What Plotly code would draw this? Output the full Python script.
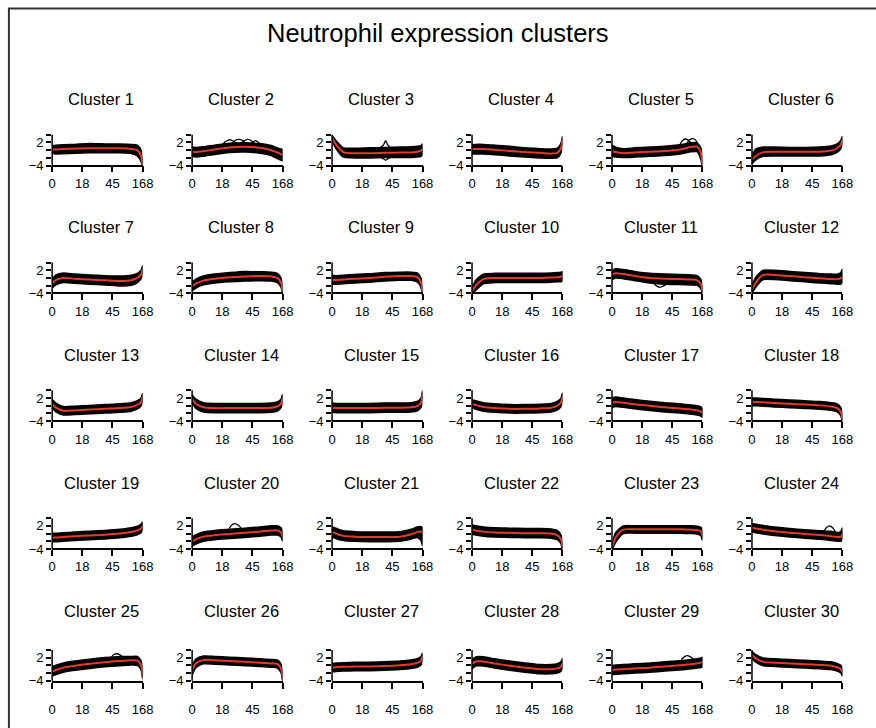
import plotly.graph_objects as go

W, H = 876, 728
FONT = "Liberation Sans, Arial, Helvetica, sans-serif"

# x positions in tick units: tick 0 -> 0, tick 18 -> 4, tick 45 -> 8, tick 168 -> 12
X = [0, 0.5, 1.5, 3, 5, 7, 9, 10.5, 11.3, 11.8, 12]
TICK_POS = [0, 4, 8, 12]
TICK_TEXT = ["0", "18", "45", "168"]
CLUSTERS = [f"Cluster {i}" for i in range(1, 31)]

MEAN = [
    [0.2, 0.2, 0.3, 0.4, 0.5, 0.5, 0.5, 0.3, 0.0, -1.5, -4.2],
    [-0.4, -0.5, -0.3, 0.2, 0.7, 0.9, 0.6, 0.0, -0.6, -1.0, -1.3],
    [3.3, 1.5, -0.5, -0.8, -0.8, -0.7, -0.6, -0.6, -0.4, -0.1, 0.3],
    [0.3, 0.3, 0.3, 0.1, -0.2, -0.5, -0.7, -0.9, -0.7, 0.5, 3.0],
    [-0.2, -0.5, -0.8, -0.6, -0.4, -0.2, 0.2, 0.8, 0.9, -0.8, -4.0],
    [-2.5, -1.5, -0.5, -0.4, -0.4, -0.4, -0.4, -0.1, 0.5, 1.5, 2.8],
    [-1.5, -0.5, 0.0, -0.2, -0.4, -0.6, -0.8, -0.6, 0.0, 0.9, 2.3],
    [-2.2, -1.5, -0.7, -0.2, 0.2, 0.4, 0.5, 0.4, 0.0, -1.2, -3.5],
    [-0.5, -0.5, -0.4, -0.2, 0.0, 0.3, 0.5, 0.5, 0.2, -1.2, -4.0],
    [-3.5, -2.0, -0.3, 0.0, 0.0, 0.0, 0.0, 0.1, 0.2, 0.3, 0.5],
    [0.8, 1.2, 1.0, 0.5, 0.0, -0.2, -0.3, -0.4, -0.6, -1.6, -3.5],
    [-3.0, -1.2, 0.8, 0.8, 0.5, 0.2, -0.1, -0.3, -0.3, -0.1, 0.3],
    [0.5, -0.5, -1.3, -1.2, -1.0, -0.8, -0.6, -0.3, 0.2, 1.0, 2.3],
    [1.8, 0.5, -0.4, -0.6, -0.6, -0.6, -0.6, -0.5, -0.2, 0.6, 2.0],
    [-0.5, -0.6, -0.6, -0.6, -0.6, -0.5, -0.5, -0.4, -0.1, 0.8, 3.0],
    [0.5, 0.2, -0.3, -0.6, -0.8, -0.8, -0.7, -0.5, 0.0, 0.9, 2.4],
    [0.8, 1.0, 0.8, 0.4, 0.0, -0.4, -0.7, -1.0, -1.2, -1.5, -1.8],
    [1.0, 1.0, 0.9, 0.7, 0.5, 0.3, 0.1, -0.2, -0.6, -1.6, -3.5],
    [-1.0, -1.0, -0.9, -0.7, -0.5, -0.3, 0.0, 0.4, 0.8, 1.3, 2.0],
    [-2.0, -1.5, -0.8, -0.4, -0.1, 0.2, 0.5, 0.8, 0.8, 0.3, -0.8],
    [0.5, 0.0, -0.6, -0.8, -0.9, -0.9, -0.8, -0.2, 0.4, 0.5, 0.2],
    [1.0, 0.8, 0.5, 0.3, 0.2, 0.1, 0.1, 0.0, -0.4, -1.5, -3.5],
    [-3.5, -1.0, 1.0, 1.1, 1.1, 1.1, 1.1, 1.0, 0.9, 0.5, -0.5],
    [1.5, 1.3, 1.0, 0.6, 0.2, -0.1, -0.4, -0.7, -0.9, -0.8, -0.2],
    [-1.6, -1.2, -0.6, -0.1, 0.4, 0.8, 1.1, 1.3, 1.2, 0.0, -2.5],
    [-1.3, 0.5, 1.4, 1.3, 1.1, 0.9, 0.7, 0.5, 0.4, -0.8, -3.2],
    [-0.6, -0.5, -0.4, -0.3, -0.3, -0.2, 0.0, 0.3, 0.6, 1.2, 2.3],
    [0.3, 1.0, 1.0, 0.5, -0.1, -0.6, -1.0, -1.0, -0.8, -0.3, 0.5],
    [-1.2, -1.1, -1.0, -0.8, -0.6, -0.3, 0.0, 0.3, 0.5, 0.7, 0.9],
    [2.8, 1.8, 0.9, 0.7, 0.5, 0.3, 0.1, -0.1, -0.5, -1.0, -1.8],
]

UPPER = [
    [1.2, 1.3, 1.4, 1.5, 1.7, 1.6, 1.6, 1.5, 1.3, 0.0, -3.5],
    [0.8, 0.7, 0.9, 1.3, 1.8, 1.9, 1.7, 1.2, 0.6, 0.3, 0.2],
    [3.8, 2.5, 0.6, 0.5, 0.6, 0.7, 0.8, 0.9, 1.0, 1.2, 1.6],
    [1.4, 1.5, 1.5, 1.3, 1.0, 0.6, 0.4, 0.3, 0.5, 1.8, 3.6],
    [1.3, 0.8, 0.4, 0.6, 0.8, 1.0, 1.4, 1.9, 1.9, 0.5, -3.0],
    [-1.3, 0.3, 0.8, 0.8, 0.7, 0.7, 0.8, 1.1, 1.6, 2.6, 3.6],
    [-0.3, 0.8, 1.3, 1.0, 0.8, 0.6, 0.5, 0.7, 1.2, 2.0, 3.2],
    [-1.0, -0.3, 0.5, 1.0, 1.4, 1.7, 1.6, 1.5, 1.2, 0.0, -2.5],
    [0.7, 0.6, 0.7, 0.9, 1.1, 1.4, 1.5, 1.5, 1.3, 0.0, -3.2],
    [-2.5, -0.6, 1.0, 1.2, 1.2, 1.2, 1.2, 1.3, 1.4, 1.5, 1.7],
    [2.0, 2.4, 2.2, 1.7, 1.2, 1.0, 0.9, 0.8, 0.6, -0.4, -2.6],
    [-2.0, 0.2, 2.0, 2.0, 1.7, 1.4, 1.1, 1.0, 1.0, 1.4, 2.3],
    [1.6, 0.7, -0.2, -0.1, 0.1, 0.3, 0.5, 0.8, 1.3, 2.0, 3.2],
    [2.8, 1.7, 0.8, 0.6, 0.6, 0.6, 0.6, 0.7, 1.0, 1.7, 3.0],
    [0.7, 0.6, 0.6, 0.6, 0.6, 0.7, 0.7, 0.8, 1.1, 2.0, 3.8],
    [1.6, 1.3, 0.8, 0.5, 0.3, 0.3, 0.4, 0.6, 1.1, 2.0, 3.3],
    [2.0, 2.3, 2.0, 1.6, 1.2, 0.8, 0.5, 0.2, 0.0, -0.3, -0.6],
    [2.0, 2.0, 1.9, 1.7, 1.5, 1.3, 1.1, 0.8, 0.5, -0.5, -2.6],
    [0.1, 0.1, 0.2, 0.4, 0.6, 0.8, 1.1, 1.5, 1.9, 2.4, 3.0],
    [-0.8, -0.3, 0.4, 0.8, 1.1, 1.4, 1.7, 2.0, 2.0, 1.5, 0.4],
    [1.8, 1.4, 0.7, 0.5, 0.4, 0.4, 0.5, 1.1, 1.7, 1.8, 1.6],
    [2.2, 2.0, 1.7, 1.5, 1.4, 1.3, 1.3, 1.2, 0.8, -0.4, -2.6],
    [-2.8, 0.3, 2.0, 2.0, 2.0, 2.0, 2.0, 2.0, 1.9, 1.6, 0.6],
    [2.6, 2.4, 2.1, 1.7, 1.3, 1.0, 0.7, 0.6, 0.3, 0.5, 1.5],
    [-0.4, 0.0, 0.6, 1.1, 1.6, 2.0, 2.3, 2.3, 2.3, 1.2, -1.5],
    [0.0, 1.6, 2.4, 2.3, 2.1, 1.9, 1.7, 1.5, 1.4, 0.3, -2.3],
    [0.5, 0.6, 0.7, 0.8, 0.8, 0.9, 1.1, 1.4, 1.7, 2.3, 3.2],
    [1.5, 2.2, 2.2, 1.7, 1.1, 0.6, 0.2, 0.2, 0.4, 0.9, 1.8],
    [0.0, 0.1, 0.2, 0.4, 0.6, 0.9, 1.2, 1.5, 1.7, 1.9, 2.1],
    [3.6, 2.8, 1.9, 1.7, 1.5, 1.3, 1.1, 0.9, 0.5, 0.0, -0.9],
]

LOWER = [
    [-0.8, -1.0, -0.9, -0.8, -0.7, -0.7, -0.7, -0.9, -1.5, -3.0, -4.6],
    [-1.6, -1.8, -1.6, -1.1, -0.6, -0.5, -0.8, -1.4, -2.2, -2.6, -2.8],
    [2.5, 0.5, -1.8, -2.0, -2.0, -1.9, -1.9, -1.9, -1.8, -1.6, -1.2],
    [-1.0, -1.0, -1.0, -1.2, -1.5, -1.8, -2.0, -2.1, -2.0, -0.7, 2.2],
    [-1.6, -1.8, -1.9, -1.8, -1.6, -1.4, -1.0, -0.4, -0.4, -2.5, -4.5],
    [-3.5, -2.5, -1.6, -1.5, -1.5, -1.5, -1.5, -1.2, -0.6, 0.4, 1.8],
    [-2.6, -1.8, -1.2, -1.4, -1.6, -1.8, -2.1, -1.9, -1.2, -0.2, 1.3],
    [-3.3, -2.6, -1.8, -1.3, -1.0, -0.8, -0.7, -0.8, -1.2, -2.4, -4.3],
    [-1.6, -1.6, -1.5, -1.3, -1.1, -0.8, -0.6, -0.6, -1.0, -2.5, -4.6],
    [-4.2, -3.2, -1.5, -1.2, -1.2, -1.2, -1.2, -1.1, -1.0, -1.0, -0.8],
    [-0.4, 0.0, -0.2, -0.7, -1.3, -1.6, -1.7, -1.8, -1.9, -2.8, -4.3],
    [-4.0, -2.4, -0.4, -0.4, -0.7, -1.0, -1.3, -1.5, -1.6, -1.6, -1.3],
    [-0.6, -1.6, -2.4, -2.3, -2.1, -1.9, -1.7, -1.4, -0.8, 0.0, 1.3],
    [0.7, -0.7, -1.6, -1.8, -1.8, -1.8, -1.8, -1.7, -1.4, -0.5, 1.0],
    [-1.7, -1.8, -1.8, -1.8, -1.8, -1.7, -1.7, -1.6, -1.3, -0.4, 2.2],
    [-0.6, -0.9, -1.4, -1.7, -1.9, -1.9, -1.8, -1.6, -1.1, -0.2, 1.5],
    [-0.4, -0.2, -0.4, -0.8, -1.2, -1.6, -1.9, -2.2, -2.4, -2.7, -3.0],
    [0.0, 0.0, -0.1, -0.3, -0.5, -0.7, -0.9, -1.2, -1.6, -2.6, -4.3],
    [-2.1, -2.1, -2.0, -1.8, -1.6, -1.4, -1.1, -0.7, -0.3, 0.2, 1.0],
    [-3.2, -2.7, -2.0, -1.6, -1.3, -1.0, -0.7, -0.4, -0.4, -0.9, -2.0],
    [-0.8, -1.3, -1.8, -2.0, -2.1, -2.1, -2.0, -1.4, -1.0, -1.8, -3.2],
    [-0.2, -0.4, -0.7, -0.9, -1.0, -1.1, -1.1, -1.2, -1.6, -2.6, -4.3],
    [-4.2, -2.2, 0.0, 0.1, 0.1, 0.1, 0.1, 0.0, -0.1, -0.6, -1.7],
    [0.4, 0.2, -0.1, -0.5, -0.9, -1.2, -1.5, -1.8, -2.0, -2.0, -1.5],
    [-2.8, -2.4, -1.8, -1.3, -0.8, -0.4, -0.1, 0.1, 0.0, -1.2, -3.5],
    [-2.5, -0.6, 0.4, 0.3, 0.1, -0.1, -0.3, -0.5, -0.7, -1.9, -4.0],
    [-1.7, -1.6, -1.5, -1.4, -1.4, -1.3, -1.1, -0.8, -0.5, 0.1, 1.3],
    [-0.9, -0.2, -0.2, -0.7, -1.3, -1.8, -2.2, -2.2, -2.0, -1.5, -0.8],
    [-2.4, -2.3, -2.2, -2.0, -1.8, -1.5, -1.2, -0.9, -0.7, -0.6, -0.5],
    [1.8, 0.8, -0.1, -0.3, -0.5, -0.7, -0.9, -1.1, -1.5, -2.0, -2.8],
]

# individual outlying gene profiles (cluster number, x points, y points)
OUT_CLUSTER = [2, 2, 2, 2, 3, 3, 5, 5, 20, 24, 25, 29, 11]
OUT_X = [
    [4.0, 4.5, 5.0, 5.5, 6.0],
    [5.2, 5.7, 6.2, 6.7, 7.2],
    [6.4, 6.9, 7.4, 7.9, 8.4],
    [7.6, 8.0, 8.4, 8.8, 9.2],
    [6.3, 6.8, 7.1, 7.4, 7.9],
    [6.3, 6.8, 7.1, 7.4, 7.9],
    [9.0, 9.4, 9.8, 10.2, 10.6],
    [9.9, 10.3, 10.7, 11.1, 11.4],
    [4.9, 5.3, 5.7, 6.1, 6.5],
    [9.5, 9.9, 10.3, 10.7, 11.1],
    [7.8, 8.2, 8.6, 9.0, 9.4],
    [9.2, 9.6, 10.0, 10.4, 10.8],
    [5.6, 6.0, 6.4, 6.8, 7.2],
]
OUT_Y = [
    [1.4, 2.3, 2.7, 2.3, 1.5],
    [1.6, 2.5, 2.8, 2.5, 1.6],
    [1.5, 2.4, 2.8, 2.4, 1.3],
    [1.0, 2.0, 2.5, 2.0, 0.9],
    [0.5, 1.3, 2.4, 1.3, 0.5],
    [-1.6, -2.2, -2.6, -2.2, -1.6],
    [1.4, 2.6, 2.9, 2.5, 1.6],
    [1.6, 2.7, 3.0, 2.6, 1.4],
    [1.3, 2.3, 2.6, 2.2, 1.4],
    [0.5, 1.6, 2.0, 1.5, 0.4],
    [2.0, 2.8, 3.0, 2.7, 2.1],
    [1.5, 2.2, 2.5, 2.2, 1.6],
    [-1.5, -2.2, -2.4, -2.1, -1.6],
]

COL_STEP = 142.4
ROW_STEP = 128.5
X_LEFT0, X_RIGHT0 = 49.0, 141.0
ZERO0 = 151.0          # pixel y of value 0 in the first row
ROW_EXTRA = [0, 0, 0, 0, 4]      # extra downward shift of a row's panel
AXIS_GAP = [15.5, 15.5, 15.5, 15.5, 17]  # value-0 to x-axis-line distance
LABEL_PAD = [0, 0, 0, 0, 9]      # extra tick-label standoff
PX_PER_UNIT = 3.875
YLIM = 4.9
TITLE_Y0 = 100.0


def fx(p):
    return p / W


def fy(p):
    return 1 - p / H


fig = go.Figure()
layout = {}
annotations = []
shapes = []

for k in range(30):
    r, c = divmod(k, 6)
    i = k + 1
    sfx = "" if i == 1 else str(i)
    xl = X_LEFT0 + COL_STEP * c
    xr = X_RIGHT0 + COL_STEP * c
    y0 = ZERO0 + ROW_STEP * r + ROW_EXTRA[r]
    top = y0 - YLIM * PX_PER_UNIT
    bot = y0 + YLIM * PX_PER_UNIT
    xaxis_pos = y0 + AXIS_GAP[r]

    layout["xaxis" + sfx] = dict(
        domain=[fx(xl), fx(xr)], range=[0, 12], anchor="free", position=fy(xaxis_pos),
        showline=True, linecolor="black", linewidth=1.5, ticks="outside", ticklen=6,
        tickwidth=1.5, tickcolor="black", tickvals=TICK_POS, ticktext=TICK_TEXT,
        ticklabelstandoff=LABEL_PAD[r],
        showgrid=False, zeroline=False, tickfont=dict(family=FONT, size=13, color="black"),
        fixedrange=True,
    )
    layout["yaxis" + sfx] = dict(
        domain=[fy(bot), fy(top)], range=[-YLIM, YLIM], anchor="x" + sfx,
        showline=False, ticks="outside", ticklen=5, tickwidth=1.5, tickcolor="black",
        tickvals=[-4, -2, 0, 2, 4], ticktext=["\u22124", "", "", "2", ""],
        showgrid=False, zeroline=False, tickfont=dict(family=FONT, size=13, color="black"),
        fixedrange=True,
    )
    shapes.append(dict(type="line", xref=f"x{sfx} domain", yref=f"y{sfx}",
                       x0=0, x1=0, y0=-4, y1=4, line=dict(color="black", width=1.5)))

    up, lo, mn = UPPER[k], LOWER[k], MEAN[k]
    fig.add_trace(go.Scatter(
        x=X + X[::-1], y=up + lo[::-1], fill="toself", fillcolor="black",
        mode="lines", line=dict(color="black", width=1.5, shape="spline", smoothing=0.6),
        xaxis="x" + sfx, yaxis="y" + sfx, hoverinfo="skip", showlegend=False,
    ))
    for cl, ox, oy in zip(OUT_CLUSTER, OUT_X, OUT_Y):
        if cl == i:
            fig.add_trace(go.Scatter(
                x=ox, y=oy, mode="lines",
                line=dict(color="black", width=1.3, shape="spline"),
                xaxis="x" + sfx, yaxis="y" + sfx, hoverinfo="skip", showlegend=False,
            ))
    fig.add_trace(go.Scatter(
        x=X, y=mn, mode="lines", line=dict(color="#e5392b", width=2, shape="spline", smoothing=0.8),
        xaxis="x" + sfx, yaxis="y" + sfx, hoverinfo="skip", showlegend=False,
    ))

    annotations.append(dict(
        text=CLUSTERS[k], x=fx((xl + xr) / 2 + 4), y=fy(TITLE_Y0 + ROW_STEP * r),
        xref="paper", yref="paper", showarrow=False, xanchor="center", yanchor="middle",
        font=dict(family=FONT, size=16.5, color="black"),
    ))

annotations.append(dict(
    text="Neutrophil expression clusters", x=fx(442), y=fy(33), xref="paper", yref="paper",
    showarrow=False, xanchor="center", yanchor="middle",
    font=dict(family=FONT, size=25.5, color="black"),
))

shapes.append(dict(type="rect", xref="paper", yref="paper",
                   x0=fx(5), x1=fx(890), y0=fy(8.5), y1=fy(740),
                   line=dict(color="#333333", width=2), fillcolor="rgba(0,0,0,0)"))

fig.update_layout(
    width=W, height=H, margin=dict(l=0, r=0, t=0, b=0),
    paper_bgcolor="white", plot_bgcolor="white", showlegend=False,
    annotations=annotations, shapes=shapes, **layout,
)

fig.write_html("out.html", include_plotlyjs=True, config={"displayModeBar": False})
